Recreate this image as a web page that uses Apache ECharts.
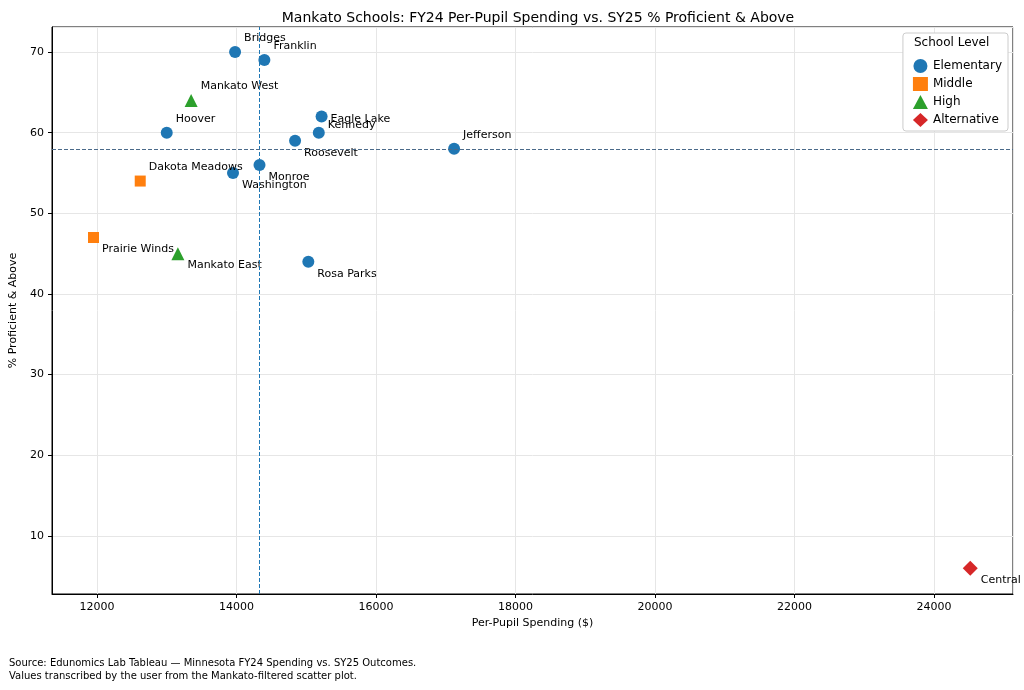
<!DOCTYPE html>
<html>
<head>
<meta charset="utf-8">
<title>Mankato Schools</title>
<script src="https://cdn.jsdelivr.net/npm/echarts@6/dist/echarts.min.js"></script>
<style>
  body { margin: 0; background: #fff; }
  #main { width: 1024px; height: 690px; }
</style>
</head>
<body>
<div id="main"></div>
<script>
// schools per level: [name, per-pupil spending, % proficient]
var elementary = [
    ['Bridges', 13980, 70], ['Franklin', 14400, 69], ['Hoover', 13000, 60],
    ['Eagle Lake', 15220, 62], ['Kennedy', 15180, 60], ['Roosevelt', 14840, 59],
    ['Jefferson', 17120, 58], ['Monroe', 14330, 56], ['Washington', 13950, 55],
    ['Rosa Parks', 15030, 44]
];
var middle = [['Dakota Meadows', 12620, 54], ['Prairie Winds', 11950, 47]];
var high = [['Mankato West', 13350, 64], ['Mankato East', 13160, 45]];
var alternative = [['Central', 24520, 6]];

var medianSpend = 14330;
var medianProf = 58;

// where each name sits relative to its marker
var labelUp = ['Bridges', 'Franklin', 'Hoover', 'Mankato West', 'Jefferson', 'Dakota Meadows'];
var labelNudge = { 'Eagle Lake': 3, 'Kennedy': -8 };

var font = 'DejaVu Sans';

function toPoints(rows) {
    return rows.map(function (r) {
        var dy = labelUp.indexOf(r[0]) >= 0 ? -14 : (r[0] in labelNudge ? labelNudge[r[0]] : 12);
        return {
            name: r[0],
            value: [r[1], r[2]],
            label: { offset: [0, dy] }
        };
    });
}

function makeSeries(name, rows, color, symbol, size) {
    return {
        name: name,
        type: 'scatter',
        symbol: symbol,
        symbolSize: size,
        data: toPoints(rows),
        itemStyle: { color: color, opacity: 1 },
        label: {
            show: true,
            position: 'right',
            distance: 3,
            formatter: '{b}',
            color: '#000',
            fontFamily: font,
            fontSize: 11
        }
    };
}

var series = [
    makeSeries('Elementary', elementary, '#1f77b4', 'circle', 12),
    makeSeries('Middle', middle, '#ff7f0e', 'rect', 11),
    makeSeries('High', high, '#2ca02c', 'triangle', 13),
    makeSeries('Alternative', alternative, '#d62728', 'diamond', 15)
];
series[0].markLine = {
    silent: true,
    symbol: 'none',
    label: { show: false },
    data: [
        { xAxis: medianSpend, lineStyle: { color: '#1f77b4', type: [4, 2], width: 1 } },
        { yAxis: medianProf, lineStyle: { color: '#4a6a8a', type: [4, 2], width: 1 } }
    ]
};

var myChart = echarts.init(document.getElementById('main'));

function plain(v) { return String(Math.round(v)); }

var option = {
    animation: false,
    textStyle: { fontFamily: font },
    title: {
        text: 'Mankato Schools: FY24 Per-Pupil Spending vs. SY25 % Proficient & Above',
        left: 533, top: 6, textAlign: 'center',
        textStyle: { fontFamily: font, fontSize: 14, fontWeight: 'normal', color: '#000' }
    },
    grid: { left: 52, right: 11, top: 27, bottom: 96, show: true, borderColor: '#000', borderWidth: 1 },
    xAxis: {
        type: 'value', min: 11355, max: 25133, splitNumber: 7,
        name: 'Per-Pupil Spending ($)', nameLocation: 'middle', nameGap: 24,
        nameTextStyle: { color: '#000', fontSize: 11, fontFamily: font },
        axisLine: { show: true, onZero: false, lineStyle: { color: '#000' } },
        axisTick: { show: true, length: 4, lineStyle: { color: '#000' } },
        axisLabel: { color: '#000', fontSize: 11, formatter: plain, showMinLabel: false, showMaxLabel: false },
        splitLine: { show: true, lineStyle: { color: '#e6e6e6' } }
    },
    yAxis: {
        type: 'value', min: 2.8, max: 73.1, splitNumber: 7,
        name: '% Proficient & Above', nameLocation: 'middle', nameGap: 30,
        nameTextStyle: { color: '#000', fontSize: 11, fontFamily: font },
        axisLine: { show: true, onZero: false, lineStyle: { color: '#000' } },
        axisTick: { show: true, length: 4, lineStyle: { color: '#000' } },
        axisLabel: { color: '#000', fontSize: 11, formatter: plain, showMinLabel: false, showMaxLabel: false },
        splitLine: { show: true, lineStyle: { color: '#e6e6e6' } }
    },
    legend: {
        orient: 'vertical', right: 16, top: 33,
        padding: [26, 6, 4, 10], itemGap: 4,
        itemWidth: 15, itemHeight: 14,
        backgroundColor: '#fff', borderColor: '#ccc', borderWidth: 1, borderRadius: 3,
        textStyle: { color: '#000', fontSize: 12, fontFamily: font },
        data: [
            { name: 'Elementary', icon: 'circle' },
            { name: 'Middle', icon: 'rect' },
            { name: 'High', icon: 'triangle' },
            { name: 'Alternative', icon: 'diamond' }
        ]
    },
    graphic: [
        { type: 'text', left: 914, top: 37, z: 100,
          style: { text: 'School Level', fontSize: 12, fontFamily: font, fill: '#000' } },
        { type: 'text', left: 9, top: 657,
          style: { text: 'Source: Edunomics Lab Tableau \u2014 Minnesota FY24 Spending vs. SY25 Outcomes.\nValues transcribed by the user from the Mankato-filtered scatter plot.',
                   fontSize: 10, lineHeight: 13, fontFamily: font, fill: '#000' } }
    ],
    series: series
};

myChart.setOption(option);
</script>
</body>
</html>
